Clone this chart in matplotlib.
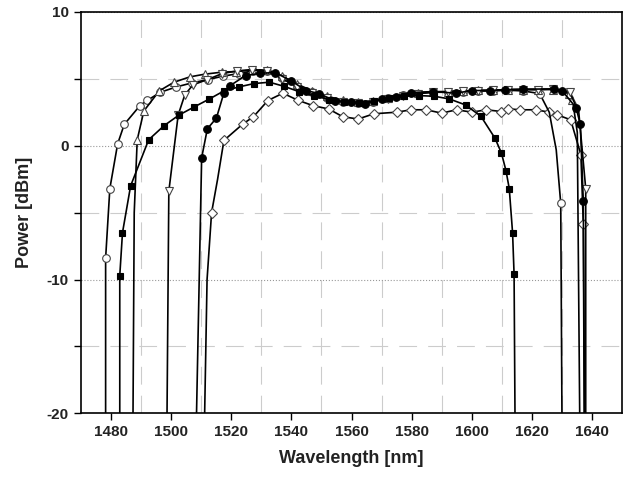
import numpy as np
import matplotlib
matplotlib.use("Agg")
import matplotlib.pyplot as plt
from matplotlib.ticker import MultipleLocator, FixedLocator

plt.rcParams['font.family'] = ['Liberation Sans', 'DejaVu Sans']
plt.rcParams['axes.unicode_minus'] = False

# open circles
oc_x = [1478.3, 1478.3, 1479.7, 1482.3, 1484.5, 1489.7, 1492.2, 1496.5, 1501.8, 1507.0, 1512.3, 1517.3,
        1522.5, 1527.3, 1532.0, 1537.0, 1542.0, 1547.0, 1552.0, 1557.0, 1562.0, 1567.0, 1572.0, 1577.0,
        1582.0, 1587.0, 1592.0, 1597.0, 1602.0, 1607.0, 1612.0, 1617.0, 1622.5, 1625.7, 1628.0, 1629.5, 1629.9]
oc_y = [-20, -8.4, -3.2, 0.15, 1.6, 3.0, 3.4, 4.0, 4.4, 4.7, 4.95, 5.2,
        5.4, 5.6, 5.6, 5.1, 4.5, 4.0, 3.6, 3.3, 3.2, 3.3, 3.6, 3.8,
        3.9, 4.0, 4.0, 4.05, 4.1, 4.1, 4.15, 4.1, 3.9, 2.5, -0.3, -4.3, -20]

# filled squares
fs_x = [1483.0, 1483.0, 1483.9, 1486.6, 1492.6, 1497.7, 1502.7, 1507.7, 1512.8, 1517.6, 1522.6, 1527.6,
        1532.7, 1537.5, 1542.5, 1547.5, 1552.5, 1557.5, 1562.5, 1567.5, 1572.5, 1577.5, 1582.5, 1587.5,
        1592.5, 1597.9, 1603.0, 1607.7, 1609.8, 1611.3, 1612.4, 1613.5, 1614.0, 1614.3]
fs_y = [-20, -9.7, -6.5, -3.0, 0.45, 1.5, 2.3, 2.9, 3.5, 4.1, 4.4, 4.65,
        4.75, 4.45, 4.05, 3.75, 3.45, 3.25, 3.2, 3.35, 3.55, 3.7, 3.75, 3.7,
        3.5, 3.05, 2.2, 0.55, -0.55, -1.85, -3.2, -6.5, -9.6, -20]

# open up-triangles
ut_x = [1487.4, 1487.8, 1488.8, 1491.0, 1496.1, 1501.0, 1506.3, 1511.2, 1516.8, 1521.7, 1527.0, 1532.0,
        1537.0, 1542.0, 1547.0, 1552.0, 1557.0, 1562.0, 1567.0, 1572.0, 1577.0, 1582.0, 1587.0, 1592.0,
        1597.0, 1602.0, 1607.0, 1612.0, 1617.0, 1622.0, 1627.0, 1632.3, 1633.4, 1635.0, 1635.8]
ut_y = [-20, -5.0, 0.45, 2.6, 4.1, 4.75, 5.15, 5.35, 5.5, 5.55, 5.65, 5.65,
        5.2, 4.6, 4.1, 3.7, 3.4, 3.3, 3.35, 3.6, 3.8, 3.95, 4.05, 4.05,
        4.1, 4.15, 4.15, 4.2, 4.2, 4.2, 4.2, 3.9, 3.45, 1.0, -20]

# open down-triangles
dt_x = [1498.7, 1499.3, 1502.4, 1504.6, 1507.3, 1512.1, 1517.1, 1522.1, 1527.0, 1532.0, 1537.0, 1542.0,
        1547.0, 1552.0, 1557.0, 1562.0, 1567.0, 1572.0, 1577.0, 1582.0, 1587.0, 1592.0, 1597.0, 1602.0,
        1607.0, 1612.0, 1617.0, 1622.0, 1627.0, 1632.5, 1635.5, 1637.8, 1637.8]
dt_y = [-20, -3.4, 2.3, 3.8, 4.55, 4.95, 5.4, 5.6, 5.7, 5.6, 5.0, 4.4,
        3.95, 3.55, 3.3, 3.2, 3.3, 3.5, 3.75, 3.9, 4.0, 4.05, 4.1, 4.1,
        4.15, 4.2, 4.2, 4.2, 4.25, 4.0, 2.5, -3.2, -20]

# filled circles
fc_x = [1508.5, 1510.2, 1512.1, 1515.1, 1517.6, 1519.7, 1524.8, 1529.7, 1534.7, 1539.9, 1545.0, 1549.1,
        1554.6, 1559.8, 1564.6, 1570.2, 1574.8, 1579.8, 1587.2, 1594.7, 1599.9, 1605.9, 1611.0, 1617.0,
        1627.3, 1629.9, 1634.6, 1636.0, 1637.0, 1637.4]
fc_y = [-20, -0.9, 1.27, 2.07, 3.95, 4.5, 5.25, 5.42, 5.47, 4.85, 4.13, 3.9,
        3.36, 3.3, 3.13, 3.5, 3.68, 3.98, 4.05, 3.93, 4.13, 4.13, 4.18, 4.23,
        4.25, 4.13, 2.85, 1.6, -4.15, -20]

# open diamonds
di_x = [1511.2, 1512.0, 1513.5, 1515.5, 1517.6, 1523.9, 1527.4, 1532.2, 1537.2, 1542.2, 1547.2, 1552.4,
        1557.1, 1562.2, 1567.4, 1575.0, 1579.8, 1584.8, 1589.9, 1594.9, 1600.0, 1604.7, 1609.8, 1612.1,
        1616.0, 1621.2, 1625.7, 1628.4, 1632.8, 1636.2, 1637.0, 1637.3]
di_y = [-20, -10, -5.0, -2.5, 0.4, 1.63, 2.17, 3.38, 3.93, 3.4, 3.0, 2.75,
        2.17, 2.0, 2.39, 2.51, 2.69, 2.69, 2.44, 2.69, 2.51, 2.69, 2.56, 2.76,
        2.69, 2.69, 2.51, 2.31, 1.94, -0.67, -5.85, -20]

fig = plt.figure(figsize=(6.3, 4.79), dpi=100)
ax = fig.add_axes([0.128, 0.137, 0.86, 0.838])


def curve(x, y, marker, face, skip, ms=5.5):
    keep = [i for i in range(len(x)) if i not in skip]
    ax.plot(x, y, color='black', lw=1.2, marker=marker, markevery=keep,
            mfc=face, mec='#444444' if face == 'white' else 'black', mew=0.8, ms=ms)


curve(di_x, di_y, 'D', 'white', [0, 1, 3, 31], ms=5)
curve(oc_x, oc_y, 'o', 'white', [0, 33, 34, 36])
curve(ut_x, ut_y, '^', 'white', [0, 1, 33, 34])
curve(dt_x, dt_y, 'v', 'white', [0, 30, 32])
curve(fs_x, fs_y, 's', 'black', [0, 33], ms=5)
curve(fc_x, fc_y, 'o', 'black', [0, 29])

ax.set_xlim(1470, 1650)
ax.set_ylim(-20, 10)
ax.xaxis.set_major_locator(MultipleLocator(20))
ax.xaxis.set_minor_locator(FixedLocator(np.arange(1490, 1650, 20)))
ax.yaxis.set_major_locator(MultipleLocator(10))
ax.yaxis.set_minor_locator(MultipleLocator(5))
ax.tick_params(which='major', direction='out', length=5, width=1, labelsize=11)
ax.tick_params(axis='y', which='minor', direction='out', length=5, width=1)
ax.tick_params(axis='x', which='minor', length=0)
for lab in ax.get_xticklabels() + ax.get_yticklabels():
    lab.set_fontweight('bold')
    lab.set_color('#222222')

ax.grid(axis='y', which='major', ls=':', color='#999999', lw=0.8)
ax.grid(axis='y', which='minor', ls=(0, (16, 10)), color='#cccccc', lw=0.8)
ax.grid(axis='x', which='minor', ls=(0, (16, 10)), color='#cccccc', lw=0.8)
ax.set_axisbelow(True)
for s in ax.spines.values():
    s.set_linewidth(1.2)

ax.set_xlabel('Wavelength [nm]', fontsize=13, fontweight='bold', color='#222222', labelpad=8)
ax.set_ylabel('Power [dBm]', fontsize=13, fontweight='bold', color='#222222', labelpad=10)

fig.savefig('out.png', dpi=100)
